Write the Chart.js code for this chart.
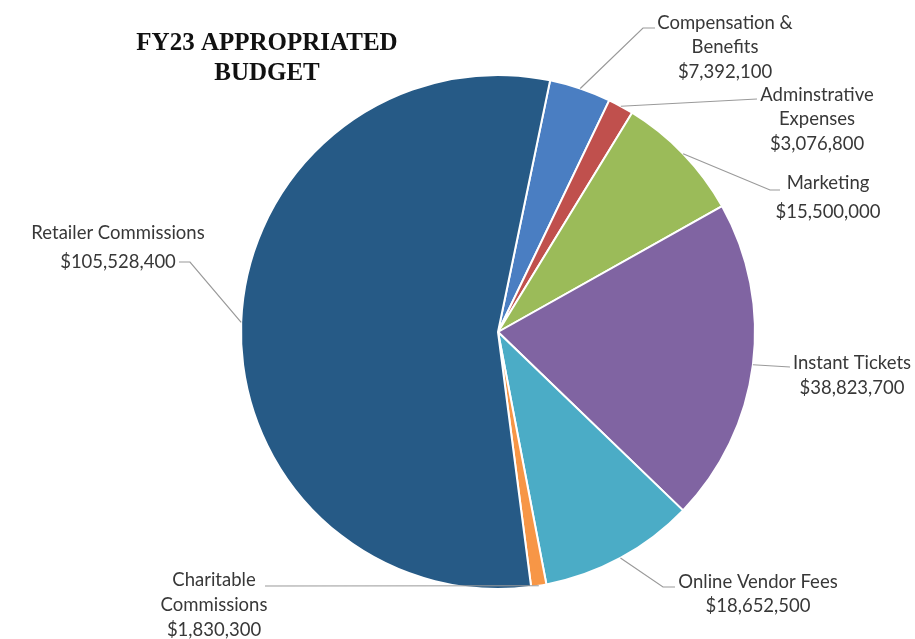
<!DOCTYPE html>
<html>
<head>
<meta charset="utf-8">
<title>FY23 Appropriated Budget</title>
<script src="https://cdn.jsdelivr.net/npm/chart.js@4"></script>
<style>
  html, body { margin: 0; padding: 0; background: #fff; }
  #wrap { width: 915px; height: 639px; }
</style>
</head>
<body>
<div id="wrap"><canvas id="pie" width="915" height="639"></canvas></div>
<script>
const titleLines = ["FY23 APPROPRIATED", "BUDGET"];

const categories = [
  ["Compensation &", "Benefits"],
  ["Adminstrative", "Expenses"],
  ["Marketing"],
  ["Instant Tickets"],
  ["Online Vendor Fees"],
  ["Charitable", "Commissions"],
  ["Retailer Commissions"],
];

const amounts = [7392100, 3076800, 15500000, 38823700, 18652500, 1830300, 105528400];

const sliceColors = ["#4a7ec2", "#c0504d", "#9bbb59", "#8064a2", "#4bacc6", "#f79646", "#265a86"];

// where each label sits (text centre x, first line y, line gap) and the bends of its leader line
const labelLayout = [
  { cx: 725, y: 23, gap: 24.5, path: [[643, 28], [655, 28]] },
  { cx: 817, y: 95, gap: 24.5, path: [[757, 99]] },
  { cx: 828, y: 183, gap: 29, path: [[770, 190], [780, 190]] },
  { cx: 852, y: 363, gap: 25, path: [[790, 367]] },
  { cx: 758, y: 582, gap: 24, path: [[663, 587], [675, 587]] },
  { cx: 214, y: 580, gap: 25, path: [[265, 586]] },
  { cx: 118, y: 233, gap: 29, path: [[190, 262], [179, 262]] },
];

function money(v) {
  return "$" + v.toLocaleString("en-US");
}

const sliceLabels = {
  id: "sliceLabels",
  afterDatasetsDraw(chart) {
    const ctx = chart.ctx;
    const meta = chart.getDatasetMeta(0);
    ctx.save();
    meta.data.forEach((arc, i) => {
      const { x, y, startAngle, endAngle, outerRadius } =
        arc.getProps(["x", "y", "startAngle", "endAngle", "outerRadius"], true);
      const mid = (startAngle + endAngle) / 2;
      const lay = labelLayout[i];

      ctx.strokeStyle = "#9a9a9a";
      ctx.lineWidth = 1.2;
      ctx.beginPath();
      ctx.moveTo(x + Math.cos(mid) * outerRadius, y + Math.sin(mid) * outerRadius);
      lay.path.forEach(p => ctx.lineTo(p[0], p[1]));
      ctx.stroke();

      const lines = [...chart.data.labels[i], money(amounts[i])];
      ctx.fillStyle = "#383838";
      ctx.font = "18.5px Lato";
      ctx.textAlign = "center";
      ctx.textBaseline = "middle";
      lines.forEach((t, k) => ctx.fillText(t, lay.cx, lay.y + k * lay.gap));
    });

    // title
    ctx.fillStyle = "#111";
    ctx.font = "bold 25px 'Liberation Serif'";
    ctx.textAlign = "center";
    ctx.textBaseline = "middle";
    titleLines.forEach((t, k) => ctx.fillText(t, 267, 44 + k * 30));
    ctx.restore();
  },
};

new Chart(document.getElementById("pie"), {
  type: "pie",
  data: {
    labels: categories,
    datasets: [
      {
        data: amounts,
        backgroundColor: sliceColors,
        borderColor: "#ffffff",
        borderWidth: 2,
        hoverOffset: 0,
      },
    ],
  },
  options: {
    responsive: false,
    animation: false,
    rotation: 11.7,
    layout: {
      padding: { top: 74, bottom: 49, left: 240, right: 159 },
    },
    plugins: {
      legend: { display: false },
      tooltip: { enabled: false },
    },
  },
  plugins: [sliceLabels],
});
</script>
</body>
</html>
